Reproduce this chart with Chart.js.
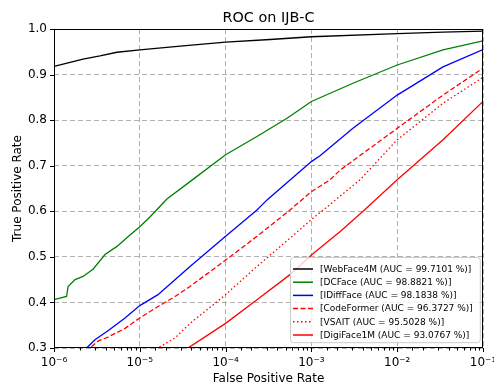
<!DOCTYPE html>
<html>
<head>
<meta charset="utf-8">
<title>ROC on IJB-C</title>
<script src="https://cdn.jsdelivr.net/npm/chart.js@4.4.1/dist/chart.umd.min.js"></script>
<style>
  body { margin: 0; background: #fff; }
  #wrap { width: 494px; height: 384px; }
</style>
</head>
<body>
<div id="wrap"><canvas id="roc" width="494" height="384"></canvas></div>
<script>
// values
const seriesNames = ['WebFace4M', 'DCFace', 'IDiffFace', 'CodeFormer', 'VSAIT', 'DigiFace1M'];
const aucValues   = [99.7101, 98.8821, 98.1838, 96.3727, 95.5028, 93.0767];

const webfaceFpr = [1e-6, 1.54e-6, 2.18e-6, 3.44e-6, 5.42e-6, 1e-5, 3.19e-5, 1e-4, 3.29e-4, 1e-3, 1e-2, 3.42e-2, 1e-1];
const webfaceTpr = [0.918, 0.927, 0.934, 0.941, 0.949, 0.954, 0.963, 0.971, 0.977, 0.983, 0.990, 0.993, 0.9955];

const dcfaceFpr = [1e-6, 1.4e-6, 1.46e-6, 1.76e-6, 2.18e-6, 2.85e-6, 3.93e-6, 5.42e-6, 7.69e-6, 1e-5, 1.32e-5, 2.07e-5, 4.17e-5, 1e-4, 2.32e-4, 5.2e-4, 1e-3, 3.05e-3, 1e-2, 3.42e-2, 1e-1];
const dcfaceTpr = [0.406, 0.413, 0.435, 0.450, 0.457, 0.473, 0.505, 0.523, 0.548, 0.566, 0.588, 0.627, 0.670, 0.724, 0.764, 0.804, 0.841, 0.881, 0.921, 0.954, 0.974];

const idiffFpr = [2.2e-6, 2.4e-6, 3.0e-6, 4.26e-6, 6.73e-6, 1e-5, 1.63e-5, 2.57e-5, 3.85e-5, 1e-4, 2.32e-4, 3.04e-4, 1e-3, 1.26e-3, 3.05e-3, 1e-2, 3.42e-2, 1e-1];
const idiffTpr = [0.29, 0.300, 0.318, 0.338, 0.366, 0.393, 0.417, 0.450, 0.479, 0.545, 0.603, 0.625, 0.709, 0.722, 0.782, 0.855, 0.917, 0.955];

const codeformerFpr = [2.4e-6, 2.63e-6, 3.26e-6, 4.26e-6, 6.73e-6, 1e-5, 1.63e-5, 2.57e-5, 3.85e-5, 1e-4, 2.32e-4, 5.64e-4, 1e-3, 1.65e-3, 2.15e-3, 1e-2, 3.42e-2, 1e-1];
const codeformerTpr = [0.29, 0.300, 0.315, 0.324, 0.343, 0.366, 0.391, 0.413, 0.435, 0.493, 0.545, 0.603, 0.643, 0.669, 0.690, 0.782, 0.855, 0.914];

const vsaitFpr = [1.45e-5, 1.63e-5, 2.57e-5, 3.85e-5, 1e-4, 2.32e-4, 5.64e-4, 1e-3, 1.26e-3, 3.68e-3, 1e-2, 3.42e-2, 1e-1];
const vsaitTpr = [0.29, 0.300, 0.322, 0.354, 0.417, 0.479, 0.541, 0.582, 0.597, 0.669, 0.757, 0.837, 0.894];

const digifaceFpr = [3.3e-5, 3.65e-5, 1e-4, 2.32e-4, 5.64e-4, 1e-3, 2.15e-3, 4e-3, 1e-2, 3.42e-2, 1e-1];
const digifaceTpr = [0.29, 0.300, 0.354, 0.406, 0.461, 0.504, 0.555, 0.600, 0.669, 0.757, 0.841];

const xTickLabels = ['10\u207B\u2076', '10\u207B\u2075', '10\u207B\u2074', '10\u207B\u00B3', '10\u207B\u00B2', '10\u207B\u00B9'];
const xTickExponents = [-6, -5, -4, -3, -2, -1];
const yTickValues = [0.3, 0.4, 0.5, 0.6, 0.7, 0.8, 0.9, 1.0];

const fontFamily = '"DejaVu Sans", sans-serif';
const gridColor = '#b0b0b0';

function toPoints(xs, ys) {
    return xs.map((x, i) => ({ x: x, y: ys[i] }));
}

function isDecade(v) {
    const l = Math.log10(v);
    return Math.abs(l - Math.round(l)) < 1e-6;
}

function rocLabel(i) {
    return `[${seriesNames[i]} (AUC = ${aucValues[i].toFixed(4)} %)]`;
}

const styles = [
    { color: '#000000', dash: [] },
    { color: '#008000', dash: [] },
    { color: '#0000ff', dash: [] },
    { color: '#ff0000', dash: [5, 2.5] },
    { color: '#ff0000', dash: [1.5, 2.5] },
    { color: '#ff0000', dash: [] }
];

const allFpr = [webfaceFpr, dcfaceFpr, idiffFpr, codeformerFpr, vsaitFpr, digifaceFpr];
const allTpr = [webfaceTpr, dcfaceTpr, idiffTpr, codeformerTpr, vsaitTpr, digifaceTpr];

const datasets = seriesNames.map((name, i) => ({
    label: rocLabel(i),
    data: toPoints(allFpr[i], allTpr[i]),
    borderColor: styles[i].color,
    borderDash: styles[i].dash,
    borderWidth: 1.3,
    pointRadius: 0,
    fill: false,
    tension: 0
}));

// frame, tick marks, titles and legend drawn like matplotlib
const frame = {
    id: 'frame',
    afterDraw(chart) {
        const ctx = chart.ctx;
        const a = chart.chartArea;
        const xs = chart.scales.x;
        const ys = chart.scales.y;
        ctx.save();

        ctx.strokeStyle = '#000';
        ctx.lineWidth = 1;
        ctx.setLineDash([]);
        ctx.beginPath();
        xs.ticks.forEach(t => {
            const px = Math.round(xs.getPixelForValue(t.value)) + 0.5;
            const len = isDecade(t.value) ? 4 : 2.5;
            ctx.moveTo(px, a.bottom);
            ctx.lineTo(px, a.bottom + len);
        });
        ys.ticks.forEach(t => {
            const py = Math.round(ys.getPixelForValue(t.value)) + 0.5;
            ctx.moveTo(a.left, py);
            ctx.lineTo(a.left - 4, py);
        });
        ctx.stroke();
        ctx.strokeRect(Math.round(a.left) + 0.5, Math.round(a.top) + 0.5,
                       Math.round(a.right - a.left) - 1, Math.round(a.bottom - a.top) - 1);

        ctx.fillStyle = '#000';
        ctx.textAlign = 'center';
        ctx.textBaseline = 'alphabetic';
        const cx = (a.left + a.right) / 2;
        ctx.font = '14.4px ' + fontFamily;
        ctx.fillText('ROC on IJB-C', cx, 22);
        ctx.font = '12px ' + fontFamily;
        ctx.fillText('False Positive Rate', cx, 382);
        ctx.save();
        ctx.translate(21, (a.top + a.bottom) / 2);
        ctx.rotate(-Math.PI / 2);
        ctx.fillText('True Positive Rate', 0, 0);
        ctx.restore();

        // legend box in the lower right corner
        ctx.font = '9px ' + fontFamily;
        const labels = chart.data.datasets.map(d => d.label);
        const textW = Math.max(...labels.map(l => ctx.measureText(l).width));
        const rowH = 13.2;
        const boxW = 30 + textW + 7;
        const boxH = rowH * labels.length + 6;
        const bx = Math.round(a.right - 3 - boxW);
        const by = Math.round(a.bottom - 6 - boxH);
        ctx.beginPath();
        ctx.roundRect(bx + 0.5, by + 0.5, boxW, boxH, 3);
        ctx.fillStyle = 'rgba(255,255,255,0.8)';
        ctx.fill();
        ctx.strokeStyle = '#cccccc';
        ctx.lineWidth = 1;
        ctx.stroke();

        ctx.textAlign = 'left';
        ctx.textBaseline = 'middle';
        chart.data.datasets.forEach((d, i) => {
            const ry = by + 12 + i * rowH;
            ctx.beginPath();
            ctx.strokeStyle = d.borderColor;
            ctx.lineWidth = 1.5;
            ctx.setLineDash(d.borderDash);
            ctx.moveTo(bx + 3, ry);
            ctx.lineTo(bx + 23, ry);
            ctx.stroke();
            ctx.setLineDash([]);
            ctx.fillStyle = '#000';
            ctx.fillText(d.label, bx + 30, ry + 0.5);
        });
        ctx.restore();
    }
};

new Chart(document.getElementById('roc'), {
    type: 'line',
    data: { datasets: datasets },
    plugins: [frame],
    options: {
        responsive: false,
        animation: false,
        layout: { padding: { top: 29, right: 11, bottom: 0, left: 0 } },
        plugins: {
            legend: { display: false },
            tooltip: { enabled: false },
            title: { display: false }
        },
        scales: {
            x: {
                type: 'logarithmic',
                min: 1e-6,
                max: 1e-1,
                afterFit: s => { s.height = 36; s.paddingLeft = 0; s.paddingRight = 0; },
                border: { display: false, dash: [5, 3] },
                grid: {
                    drawTicks: false,
                    color: c => (c.tick && isDecade(c.tick.value)) ? gridColor : 'rgba(0,0,0,0)',
                    lineWidth: 1
                },
                ticks: {
                    autoSkip: false,
                    maxRotation: 0,
                    padding: 8,
                    color: '#000',
                    font: { family: fontFamily, size: 12 },
                    callback: v => {
                        if (!isDecade(v)) return '';
                        const k = xTickExponents.indexOf(Math.round(Math.log10(v)));
                        return k >= 0 ? xTickLabels[k] : '';
                    }
                }
            },
            y: {
                min: 0.3,
                max: 1.0,
                afterFit: s => { s.width = 54; },
                afterBuildTicks: s => { s.ticks = yTickValues.map(v => ({ value: v })); },
                border: { display: false, dash: [5, 3] },
                grid: { drawTicks: false, color: gridColor, lineWidth: 1 },
                ticks: {
                    padding: 7,
                    color: '#000',
                    font: { family: fontFamily, size: 12 },
                    callback: v => Number(v).toFixed(1)
                }
            }
        }
    }
});
</script>
</body>
</html>
